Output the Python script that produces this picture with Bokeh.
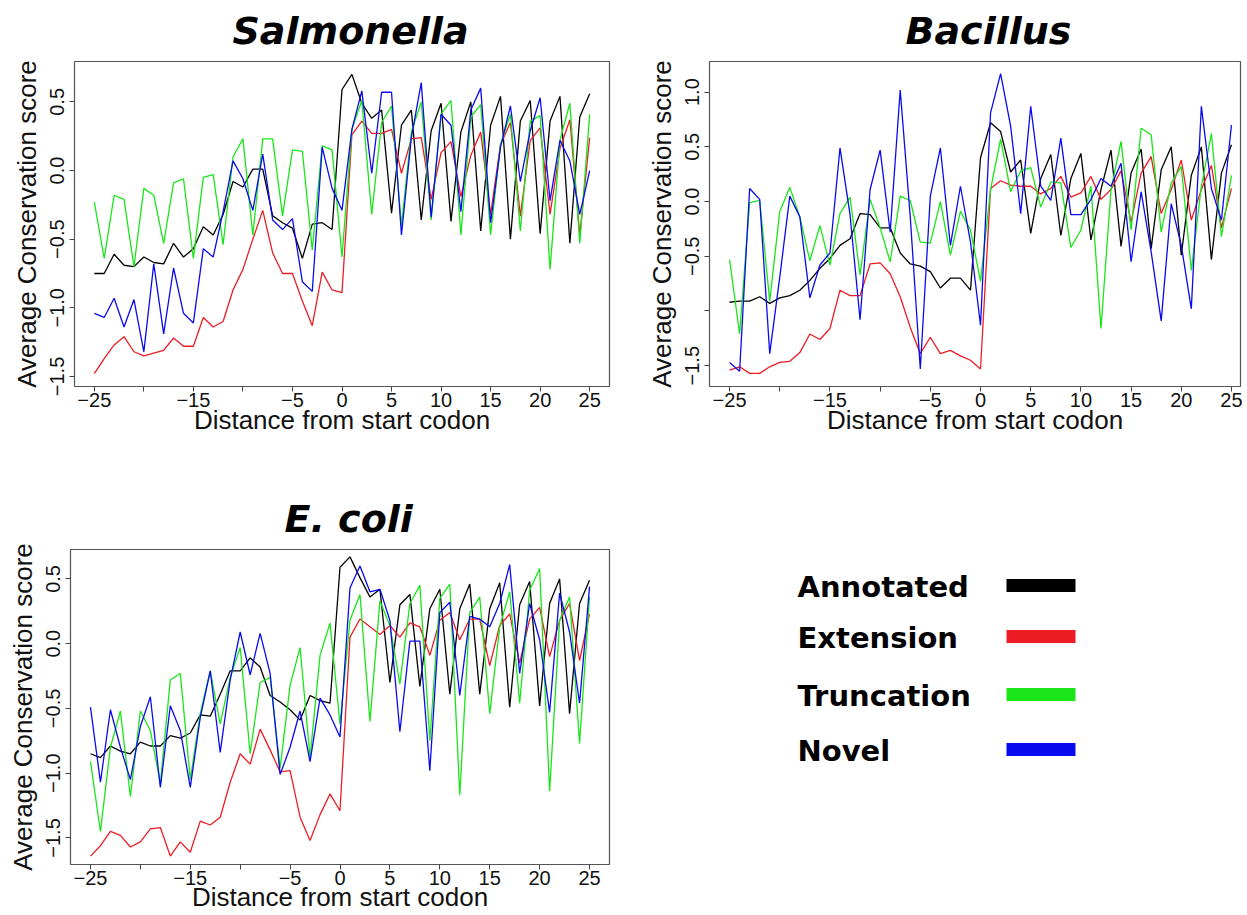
from bokeh.plotting import figure
from bokeh.layouts import column, row
from bokeh.models import Range1d, FixedTicker
from bokeh.embed import file_html
from bokeh.resources import INLINE
from bokeh.core.properties import value

# ---------------- data ----------------
x_positions = list(range(-25, 26))
series_names = ["Annotated", "Extension", "Truncation", "Novel"]
series_colors = ["#000000", "#ee1c24", "#19e619", "#0a0af0"]

x_ticks = [-25, -20, -15, -10, -5, 0, 5, 10, 15, 20, 25]
x_tick_labels = ["\u221225", "", "\u221215", "", "\u22125", "0", "5", "10", "15", "20", "25"]
y_ticks_sal = [-1.5, -1.0, -0.5, 0.0, 0.5]
y_labels_sal = ["\u22121.5", "\u22121.0", "\u22120.5", "0.0", "0.5"]
y_ticks_bac = [-1.5, -1.0, -0.5, 0.0, 0.5, 1.0]
y_labels_bac = ["\u22121.5", "", "\u22120.5", "0.0", "0.5", "1.0"]
y_ticks_eco = [-1.5, -1.0, -0.5, 0.0, 0.5]
y_labels_eco = ["\u22121.5", "\u22121.0", "\u22120.5", "0.0", "0.5"]

sal_annotated = [-0.75, -0.75, -0.61, -0.69, -0.70, -0.63, -0.67, -0.68, -0.53, -0.63, -0.57, -0.41, -0.47,
                 -0.32, -0.08, -0.12, 0.01, 0.01, -0.33, -0.38, -0.42, -0.64, -0.39, -0.38, -0.43, 0.59,
                 0.70, 0.49, 0.38, 0.44, -0.31, 0.33, 0.44, -0.36, 0.29, 0.49, -0.37, 0.28, 0.50, -0.44,
                 0.33, 0.54, -0.50, 0.36, 0.51, -0.46, 0.36, 0.54, -0.53, 0.39, 0.56]
sal_extension = [-1.48, -1.37, -1.27, -1.21, -1.32, -1.35, -1.33, -1.31, -1.22, -1.28, -1.28, -1.07, -1.14,
                 -1.10, -0.87, -0.72, -0.50, -0.29, -0.60, -0.75, -0.75, -0.95, -1.13, -0.74, -0.87, -0.89,
                 0.26, 0.36, 0.27, 0.27, 0.30, -0.02, 0.23, 0.24, -0.21, 0.13, 0.21, -0.19, 0.11, 0.28,
                 -0.32, 0.19, 0.35, -0.33, 0.22, 0.31, -0.32, 0.16, 0.37, -0.47, 0.24]
sal_truncation = [-0.23, -0.64, -0.18, -0.21, -0.70, -0.13, -0.18, -0.53, -0.09, -0.06, -0.64, -0.05, -0.03,
                  -0.54, 0.10, 0.23, -0.47, 0.23, 0.23, -0.33, 0.15, 0.14, -0.58, 0.18, 0.15, -0.63, 0.30,
                  0.51, -0.32, 0.35, 0.47, -0.40, 0.28, 0.50, -0.36, 0.41, 0.51, -0.47, 0.39, 0.48, -0.47,
                  0.19, 0.41, -0.44, 0.36, 0.40, -0.72, 0.22, 0.49, -0.53, 0.41]
sal_novel = [-1.04, -1.07, -0.93, -1.14, -0.94, -1.32, -0.68, -1.19, -0.71, -1.04, -1.11, -0.57, -0.63,
             -0.30, 0.07, -0.06, -0.29, 0.12, -0.36, -0.43, -0.35, -0.81, -0.88, 0.17, -0.13, -0.29, 0.30,
             0.58, -0.02, 0.57, 0.57, -0.47, 0.24, 0.64, -0.34, 0.41, 0.33, -0.30, 0.44, 0.60, -0.38, 0.17,
             0.47, -0.08, 0.29, 0.53, -0.22, 0.22, 0.07, -0.32, 0.00]

bac_annotated = [-0.92, -0.91, -0.91, -0.87, -0.93, -0.88, -0.86, -0.81, -0.72, -0.61, -0.52, -0.40, -0.34,
                 -0.11, -0.12, -0.24, -0.24, -0.47, -0.57, -0.59, -0.64, -0.79, -0.70, -0.70, -0.81, 0.40,
                 0.72, 0.64, 0.27, 0.38, -0.29, 0.21, 0.43, -0.31, 0.21, 0.44, -0.35, 0.11, 0.47, -0.41,
                 0.26, 0.48, -0.43, 0.29, 0.50, -0.49, 0.24, 0.50, -0.53, 0.26, 0.52]
bac_extension = [-1.54, -1.51, -1.57, -1.57, -1.51, -1.47, -1.46, -1.38, -1.21, -1.26, -1.16, -0.81, -0.86,
                 -0.86, -0.57, -0.56, -0.66, -0.87, -1.15, -1.39, -1.24, -1.39, -1.36, -1.41, -1.45, -1.53,
                 0.12, 0.19, 0.15, 0.14, 0.14, 0.07, 0.12, 0.23, 0.04, 0.08, 0.23, 0.02, 0.11, 0.28, -0.19,
                 0.26, 0.41, -0.11, 0.11, 0.38, -0.17, 0.11, 0.33, -0.24, 0.12]
bac_truncation = [-0.53, -1.21, -0.01, 0.01, -0.91, -0.09, 0.13, -0.14, -0.54, -0.22, -0.58, -0.11, 0.04,
                  -0.67, 0.02, -0.24, -0.55, 0.05, 0.01, -0.37, -0.38, 0.00, -0.49, -0.09, -0.26, -0.73,
                  0.11, 0.57, 0.09, 0.28, 0.31, -0.05, 0.18, 0.17, -0.42, -0.26, 0.14, -1.16, 0.11, 0.55,
                  -0.26, 0.67, 0.61, -0.28, 0.17, 0.32, -0.63, 0.14, 0.62, -0.32, 0.24]
bac_novel = [-1.47, -1.55, 0.12, 0.02, -1.39, -0.69, 0.05, -0.14, -0.88, -0.58, -0.47, 0.49, -0.12, -1.08,
             0.11, 0.47, -0.28, 1.02, -0.14, -1.53, 0.05, 0.49, -0.40, 0.14, -0.37, -1.13, 0.81, 1.17, 0.69,
             -0.11, 0.87, 0.14, 0.01, 0.58, -0.12, -0.12, 0.02, 0.21, 0.14, 0.35, -0.55, 0.09, -0.46, -1.09,
             -0.02, -0.40, -0.98, 0.87, 0.12, -0.17, 0.70]

eco_annotated = [-0.85, -0.88, -0.79, -0.83, -0.85, -0.76, -0.79, -0.79, -0.71, -0.73, -0.69, -0.55, -0.56,
                 -0.39, -0.21, -0.21, -0.11, -0.18, -0.40, -0.45, -0.51, -0.59, -0.40, -0.44, -0.46, 0.59,
                 0.67, 0.51, 0.36, 0.42, -0.30, 0.30, 0.38, -0.33, 0.27, 0.42, -0.39, 0.27, 0.46, -0.39,
                 0.27, 0.47, -0.49, 0.30, 0.48, -0.48, 0.31, 0.50, -0.54, 0.31, 0.49]
eco_extension = [-1.64, -1.56, -1.45, -1.48, -1.57, -1.53, -1.43, -1.42, -1.64, -1.53, -1.61, -1.37, -1.40,
                 -1.34, -1.07, -0.85, -0.93, -0.66, -0.82, -0.99, -0.98, -1.34, -1.52, -1.32, -1.16, -1.29,
                 0.05, 0.19, 0.13, 0.07, 0.14, 0.05, 0.16, 0.13, -0.09, 0.18, 0.24, 0.03, 0.19, 0.19, -0.17,
                 0.14, 0.23, -0.15, 0.19, 0.28, -0.10, 0.18, 0.31, -0.13, 0.23]
eco_truncation = [-0.91, -1.45, -0.80, -0.52, -1.18, -0.52, -0.67, -1.08, -0.28, -0.23, -1.05, -0.54, -0.21,
                  -0.62, -0.26, -0.03, -0.85, -0.30, -0.26, -0.96, -0.32, -0.03, -0.88, -0.09, 0.16, -0.62,
                  0.18, 0.38, -0.60, 0.33, 0.14, -0.31, 0.31, 0.45, -0.75, 0.35, 0.46, -1.17, 0.24, 0.36,
                  -0.54, 0.13, 0.40, -0.46, 0.41, 0.58, -1.14, 0.18, 0.36, -0.77, 0.36]
eco_novel = [-0.49, -1.07, -0.51, -0.80, -1.05, -0.64, -0.41, -1.11, -0.48, -0.67, -1.11, -0.57, -0.21,
             -0.84, -0.28, 0.09, -0.24, 0.08, -0.23, -1.01, -0.80, -0.52, -0.91, -0.42, -0.55, -0.72, 0.43,
             0.60, 0.40, 0.42, 0.18, -0.68, 0.02, 0.02, -0.98, 0.24, 0.32, -0.40, 0.21, 0.19, 0.13, 0.31,
             0.61, -0.23, 0.31, 0.03, -0.53, 0.39, 0.09, -0.46, 0.44]

AXIS_FONT = "Liberation Sans"


def make_panel(title, title_left, series, yr, yticks, ylabels, width, height, ml, mr, mt, mb,
               xr=(-27, 27), xlab_standoff=-5):
    p = figure(width=width, height=height, x_range=Range1d(*xr), y_range=Range1d(*yr),
               output_backend="svg", toolbar_location=None,
               min_border_left=ml, min_border_right=mr, min_border_top=mt, min_border_bottom=mb,
               title=title)
    p.title.text_font = "DejaVu Sans"
    p.title.text_font_style = "bold italic"
    p.title.text_font_size = "38px"
    p.title.align = "left"
    p.title.offset = title_left
    p.title.vertical_align = "top"
    p.title.standoff = 14
    p.title.text_color = "#000000"
    for ys, c in zip(series, series_colors):
        p.line(x_positions, ys, line_color=c, line_width=1.3)
    p.xgrid.visible = False
    p.ygrid.visible = False
    p.outline_line_color = "#555555"
    p.outline_line_width = 1.2
    p.background_fill_color = "white"
    p.border_fill_color = "white"

    p.xaxis.ticker = FixedTicker(ticks=x_ticks)
    p.xaxis.major_label_overrides = {t: lab for t, lab in zip(x_ticks, x_tick_labels)}
    p.yaxis.ticker = FixedTicker(ticks=yticks)
    p.yaxis.major_label_overrides = {float(t): lab for t, lab in zip(yticks, ylabels)}
    p.yaxis.major_label_orientation = "vertical"
    for ax in (p.xaxis[0], p.yaxis[0]):
        ax.axis_line_color = None
        ax.major_tick_line_color = "#444444"
        ax.major_tick_out = 5
        ax.major_tick_in = 0
        ax.minor_tick_line_color = None
        ax.major_label_text_font = AXIS_FONT
        ax.major_label_text_font_size = "20px"
        ax.major_label_text_color = "#111111"
        ax.axis_label_text_font = AXIS_FONT
        ax.axis_label_text_font_size = "26px"
        ax.axis_label_text_font_style = "normal"
        ax.axis_label_text_color = "#111111"
    p.xaxis.major_label_standoff = 1
    p.xaxis.axis_label_standoff = xlab_standoff
    p.yaxis.major_label_standoff = 5
    p.yaxis.axis_label_standoff = 6
    p.xaxis.axis_label = "Distance from start codon"
    p.yaxis.axis_label = "Average Conservation score"
    return p


p1 = make_panel("Salmonella", 158, [sal_annotated, sal_extension, sal_truncation, sal_novel],
                (-1.573, 0.794), y_ticks_sal, y_labels_sal, 620, 445, 74, 11, 61, 59)
p2 = make_panel("Bacillus", 196, [bac_annotated, bac_extension, bac_truncation, bac_novel],
                (-1.69, 1.28), y_ticks_bac, y_labels_bac, 627, 445, 89, 7, 61, 59, xr=(-27, 25.9))
p3 = make_panel("E. coli", 214, [eco_annotated, eco_extension, eco_truncation, eco_novel],
                (-1.705, 0.727), y_ticks_eco, y_labels_eco, 620, 470, 70, 11, 104, 40, xlab_standoff=-6)

# legend panel (its frame is aligned with the E. coli frame: top at 104 px)
legend_row_offsets = [37, 88, 146, 201]
leg = figure(width=627, height=470, x_range=Range1d(0, 627), y_range=Range1d(315, 0),
             output_backend="svg", toolbar_location=None, min_border_left=0, min_border_right=0,
             min_border_top=104, min_border_bottom=51,
             x_axis_location=None, y_axis_location=None, outline_line_color=None)
leg.xgrid.visible = False
leg.ygrid.visible = False
n = len(series_names)
leg.text(x=[177] * n, y=legend_row_offsets, text=series_names,
         text_font=value("DejaVu Sans"), text_font_style="bold", text_font_size="29px",
         text_color="#000000", text_align="left", text_baseline="middle")
leg.segment(x0=[386] * n, x1=[455] * n,
            y0=[v - 1 for v in legend_row_offsets], y1=[v - 1 for v in legend_row_offsets],
            line_color=series_colors, line_width=13, line_cap="butt")

layout = column(row(p1, p2), row(p3, leg))
open("out.html", "w").write(file_html(layout, INLINE))
